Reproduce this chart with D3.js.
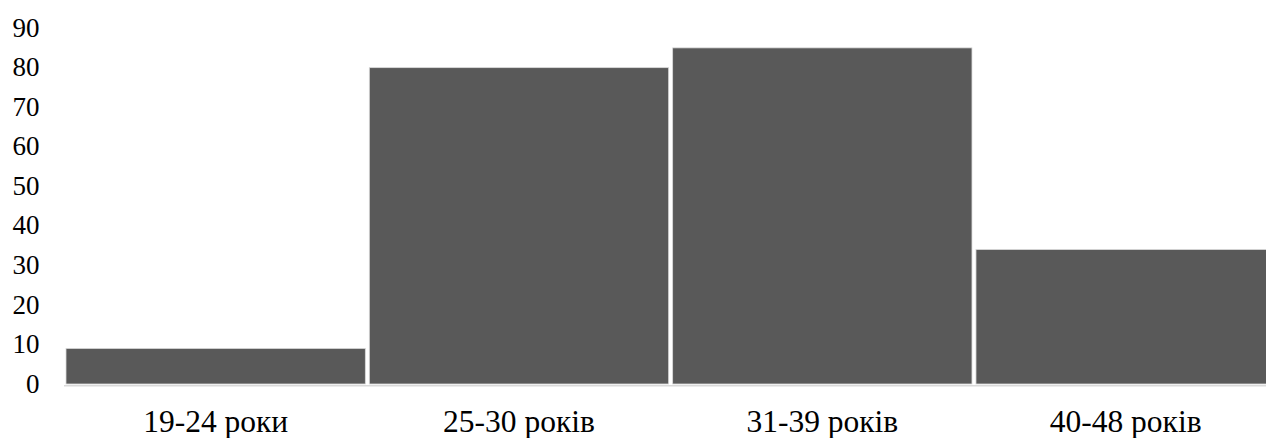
<!DOCTYPE html>
<html>
<head>
<meta charset="utf-8">
<script src="https://cdn.jsdelivr.net/npm/d3@7"></script>
<style>
  html, body { margin: 0; padding: 0; background: #fff; overflow: hidden; }
  svg { display: block; }
  text { font-family: "Liberation Serif", "Times New Roman", serif; fill: #000; }
</style>
</head>
<body>
<svg id="chart" width="1266" height="438"></svg>
<script>
const categories = ["19-24 роки", "25-30 років", "31-39 років", "40-48 років"];
const values = [9, 80, 85, 34];
const yTicks = [0, 10, 20, 30, 40, 50, 60, 70, 80, 90];

const svg = d3.select("#chart");
const x0 = 64, x1 = 1277.3, yBottom = 384, yTop = 28.1;

const x = d3.scaleBand().domain(categories).range([x0, x1])
  .paddingInner(0.0132).paddingOuter(0.0066);
const y = d3.scaleLinear().domain([0, 90]).range([yBottom, yTop]);

// bars
svg.append("g").selectAll("rect").data(values).join("rect")
  .attr("x", (d, i) => x(categories[i]))
  .attr("y", d => y(d))
  .attr("width", x.bandwidth())
  .attr("height", d => y(0) - y(d))
  .attr("fill", "#595959")
  .attr("stroke", "#d9d9d9")
  .attr("stroke-width", 0.8);

// baseline axis
svg.append("line")
  .attr("x1", x0).attr("x2", 1266)
  .attr("y1", yBottom + 1.7).attr("y2", yBottom + 1.7)
  .attr("stroke", "#d9d9d9").attr("stroke-width", 1.5);

// y tick labels
const yAxis = d3.axisLeft(y).tickValues(yTicks).tickSize(0).tickPadding(0);
const gy = svg.append("g").attr("transform", "translate(39.5,0)").call(yAxis);
gy.select(".domain").remove();
gy.selectAll("text")
  .attr("font-family", "Liberation Serif, Times New Roman, serif")
  .attr("font-size", 27)
  .attr("fill", "#000")
  .attr("dy", "0.3em");

// x labels
const xAxis = d3.axisBottom(x).tickSize(0).tickPadding(0);
const gx = svg.append("g").attr("transform", `translate(0,${yBottom})`).call(xAxis);
gx.select(".domain").remove();
gx.selectAll("text")
  .attr("font-family", "Liberation Serif, Times New Roman, serif")
  .attr("font-size", 31.5)
  .attr("fill", "#000")
  .attr("y", 48)
  .attr("dy", 0);
</script>
</body>
</html>
